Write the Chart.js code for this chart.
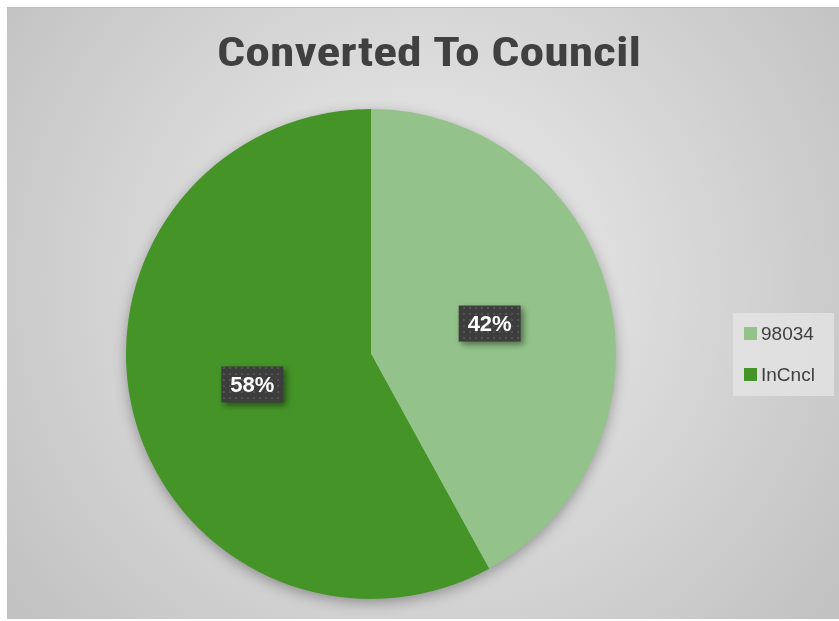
<!DOCTYPE html>
<html>
<head>
<meta charset="utf-8">
<script src="https://cdn.jsdelivr.net/npm/chart.js@4"></script>
<style>
  html, body { margin: 0; padding: 0; background: #fff; }
  #wrap { position: absolute; left: 7px; top: 7px; width: 832px; height: 612px; }
</style>
</head>
<body>
<div id="wrap"><canvas id="pieChart"></canvas></div>
<script>
// chart values
var categories = ["98034", "InCncl"];
var shares = [42, 58];
var sliceColors = ["#93c38a", "#449428"];
var chartTitle = "Converted To Council";

// background + title + shadow under the pie
var decorPlugin = {
    id: 'decor',
    beforeDraw: function(chart) {
        var ctx = chart.ctx, w = chart.width, h = chart.height;
        var g = ctx.createRadialGradient(w * 0.5, h * 0.45, 20, w * 0.5, h * 0.45, w * 0.62);
        g.addColorStop(0, "#ececec");
        g.addColorStop(1, "#c2c2c2");
        ctx.save();
        ctx.fillStyle = g;
        ctx.fillRect(0, 0, w, h);
        ctx.fillStyle = "#bdbdbd";
        ctx.fillRect(0, 0, w, 1);
        ctx.font = "bold 40px 'Liberation Sans Narrow', 'Roboto Condensed', 'Liberation Sans', sans-serif";
        ctx.fillStyle = "#404040";
        ctx.textBaseline = "alphabetic";
        // stretch to the width of the original title
        var tw = ctx.measureText(chartTitle).width;
        var sx = 424 / tw;
        ctx.translate(422, 59);
        ctx.scale(sx, 1);
        ctx.textAlign = "center";
        ctx.fillText(chartTitle, 0, 0);
        ctx.restore();
    },
    beforeDatasetsDraw: function(chart) {
        var arc = chart.getDatasetMeta(0).data[0];
        if (!arc) return;
        var ctx = chart.ctx;
        ctx.save();
        ctx.shadowColor = "rgba(0,0,0,0.35)";
        ctx.shadowBlur = 14;
        ctx.shadowOffsetY = 4;
        ctx.fillStyle = "#449428";
        ctx.beginPath();
        ctx.arc(arc.x, arc.y, arc.outerRadius - 1, 0, Math.PI * 2);
        ctx.fill();
        ctx.restore();
    }
};

// dark percent boxes and the legend on the right
var labelPlugin = {
    id: 'labels',
    afterDatasetsDraw: function(chart) {
        var ctx = chart.ctx;
        var meta = chart.getDatasetMeta(0);
        var ds = chart.data.datasets[0];
        var total = ds.data.reduce(function(a, b) { return a + b; }, 0);

        // dotted fill like the reference boxes
        var pc = document.createElement('canvas');
        pc.width = 6; pc.height = 6;
        var pctx = pc.getContext('2d');
        pctx.fillStyle = "#3d3d3d";
        pctx.fillRect(0, 0, 6, 6);
        pctx.fillStyle = "#535353";
        pctx.fillRect(0, 0, 2, 2);
        var pattern = ctx.createPattern(pc, 'repeat');

        meta.data.forEach(function(arc, i) {
            var mid = (arc.startAngle + arc.endAngle) / 2;
            var r = arc.outerRadius * 0.5;
            var x = arc.x + Math.cos(mid) * r;
            var y = arc.y + Math.sin(mid) * r;
            var txt = Math.round(ds.data[i] / total * 100) + "%";
            var bw = 62, bh = 36;
            ctx.save();
            ctx.shadowColor = "rgba(0,0,0,0.45)";
            ctx.shadowBlur = 6;
            ctx.shadowOffsetX = 3;
            ctx.shadowOffsetY = 3;
            ctx.fillStyle = pattern;
            ctx.fillRect(x - bw / 2, y - bh / 2, bw, bh);
            ctx.restore();
            ctx.save();
            ctx.font = "bold 22px 'Liberation Sans', Arial, sans-serif";
            ctx.fillStyle = "#ffffff";
            ctx.textAlign = "center";
            ctx.textBaseline = "middle";
            ctx.fillText(txt, x, y + 1);
            ctx.restore();
        });

        // legend
        ctx.save();
        ctx.fillStyle = "rgba(230,230,230,0.75)";
        ctx.fillRect(726, 306, 101, 83);
        ctx.font = "19px 'Liberation Sans', Arial, sans-serif";
        ctx.textBaseline = "middle";
        chart.data.labels.forEach(function(lab, i) {
            var y = 326.5 + i * 41;
            ctx.fillStyle = ds.backgroundColor[i];
            ctx.fillRect(737, y - 6.5, 13, 13);
            ctx.fillStyle = "#404040";
            ctx.fillText(lab, 754, y + 1);
        });
        ctx.restore();
    }
};

var ctx = document.getElementById("pieChart").getContext("2d");
new Chart(ctx, {
    type: 'pie',
    data: {
        labels: categories,
        datasets: [{
            data: shares,
            backgroundColor: sliceColors,
            borderWidth: 0
        }]
    },
    options: {
        responsive: true,
        maintainAspectRatio: false,
        animation: false,
        layout: { padding: { left: 119, right: 223, top: 102, bottom: 20 } },
        plugins: {
            legend: { display: false },
            title: { display: false },
            tooltip: { enabled: false }
        }
    },
    plugins: [decorPlugin, labelPlugin]
});
</script>
</body>
</html>
